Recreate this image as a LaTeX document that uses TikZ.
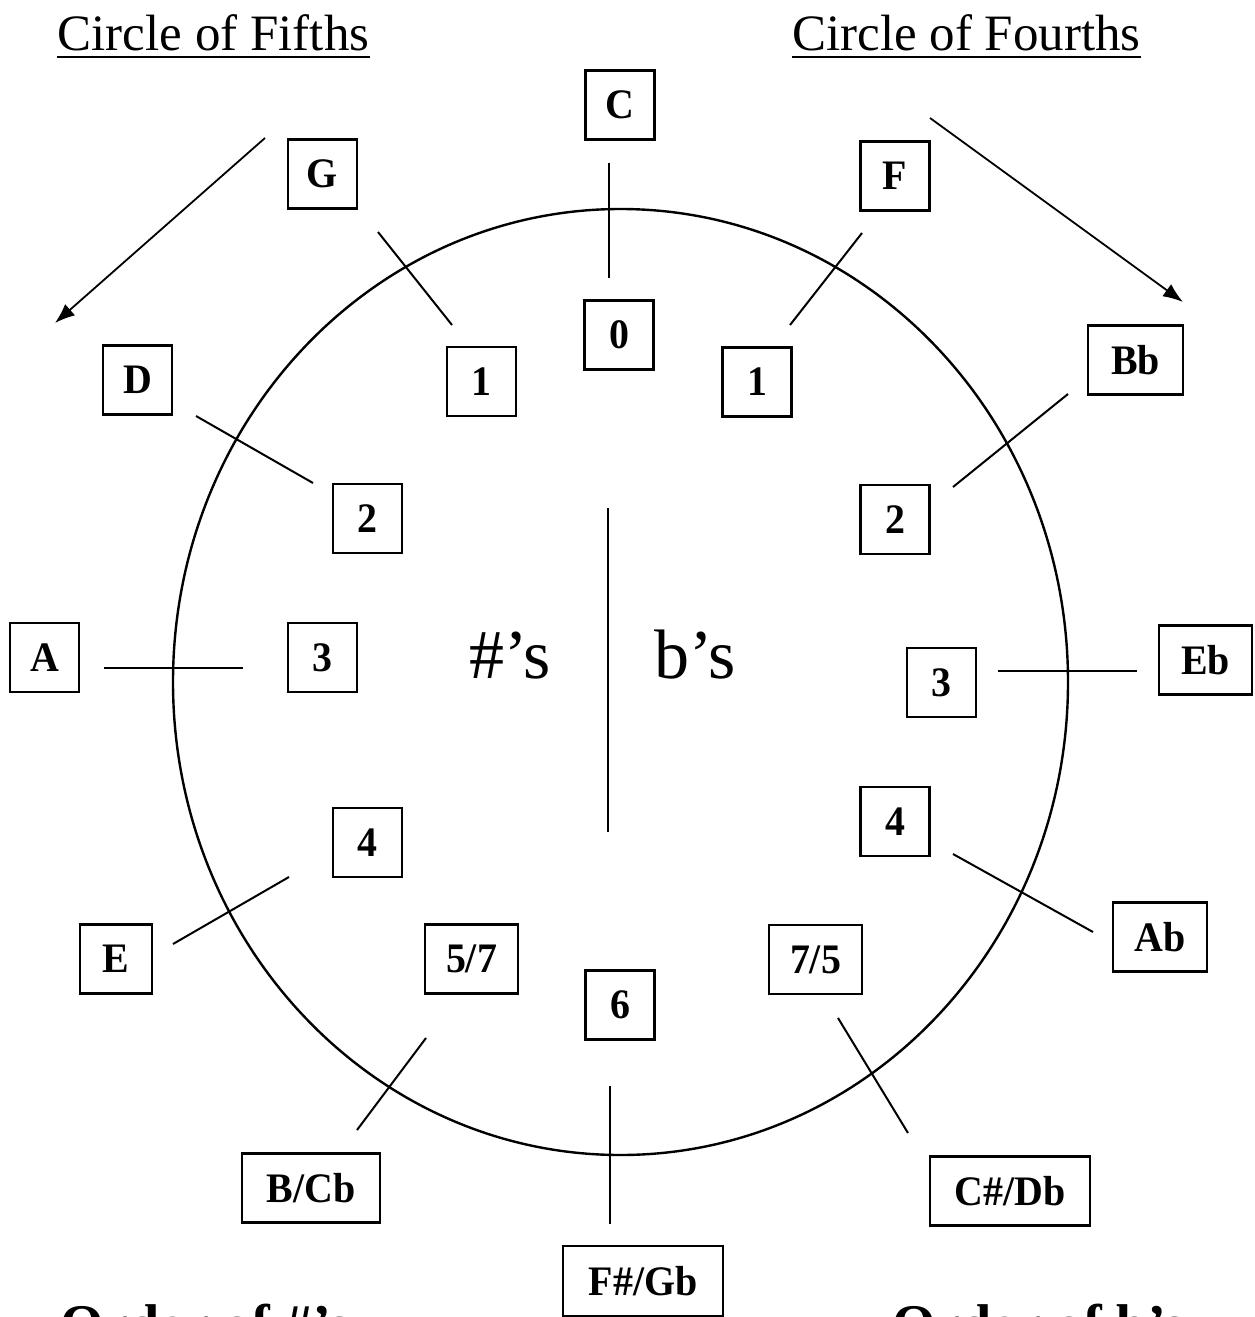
\documentclass[tikz,border=0pt]{standalone}
\usepackage{fontspec}
\setmainfont{Liberation Serif}
\newfontfamily\kbfont[FakeStretch=0.95]{Liberation Serif}
\usetikzlibrary{arrows.meta}
\begin{document}
\begin{tikzpicture}[x=1pt,y=-1pt,
  keybox/.style={draw,line width=2.2pt,inner sep=0pt,minimum height=69pt,minimum width=69pt,
    font=\kbfont\bfseries\fontsize{42}{42}\selectfont},
  tick/.style={line width=2pt},
  bigarrow/.style={line width=1.8pt,-{Latex[length=20pt,width=15pt]}},
  title/.style={inner sep=0pt,anchor=base,font=\fontsize{51}{51}\selectfont},
  bottomtitle/.style={inner sep=0pt,anchor=north west,font=\fontsize{56}{56}\selectfont\bfseries},
  sidelabel/.style={inner sep=0pt,anchor=base,font=\fontsize{70}{70}\selectfont}]
\useasboundingbox (0,0) rectangle (1254,1317);
\clip (0,0) rectangle (1254,1317);
\fill[white] (0,0) rectangle (1254,1317);

% titles
\node[title] (t5) at (213.5,50) {Circle of Fifths};
\node[title] (t4) at (966.5,50) {Circle of Fourths};
\draw[line width=2pt] ([yshift=-7pt]t5.base west) -- ([yshift=-7pt]t5.base east);
\draw[line width=2pt] ([yshift=-7pt]t4.base west) -- ([yshift=-7pt]t4.base east);

% circle
\draw[line width=2.4pt] (620.5,682) ellipse [x radius=447.5, y radius=473];

% keys on the outside
\node[keybox] (C)   at (620,105) {C};
\node[keybox] (G)   at (322.5,174) {G};
\node[keybox] (F)   at (895,176) {F};
\node[keybox] (D)   at (137.5,380) {D};
\node[keybox,minimum width=95pt] (Bb) at (1135.5,360) {Bb};
\node[keybox] (A)   at (44.5,657.5) {A};
\node[keybox,minimum width=93pt] (Eb) at (1205.5,660) {Eb};
\node[keybox,minimum width=72pt] (E) at (116,959) {E};
\node[keybox,minimum width=94pt] (Ab) at (1160,937) {Ab};
\node[keybox,minimum width=138pt] (BCb) at (311,1188) {B/Cb};
\node[keybox,minimum width=160pt] (CDb) at (1010,1191) {C\#/Db};
\node[keybox,minimum width=160pt,minimum height=70pt] (FGb) at (643,1281) {F\#/Gb};

% numbers inside
\node[keybox] (n0)  at (619,335) {0};
\node[keybox] (n1l) at (481.5,381.5) {1};
\node[keybox] (n1r) at (757,382) {1};
\node[keybox] (n2l) at (367.5,518.5) {2};
\node[keybox] (n2r) at (895,519.5) {2};
\node[keybox] (n3l) at (322.5,657.5) {3};
\node[keybox] (n3r) at (941.5,682.5) {3};
\node[keybox] (n4l) at (367.5,842.5) {4};
\node[keybox] (n4r) at (895,821.5) {4};
\node[keybox,minimum width=93pt] (n57) at (471.5,959) {5/7};
\node[keybox,minimum width=93pt] (n75) at (815.5,959.5) {7/5};
\node[keybox] (n6)  at (620,1005) {6};

% centre labels
\node[sidelabel] (sharps) at (510,678) {\#’s};
\node[sidelabel] (flats)  at (695,678) {b’s};

% connector end points
\coordinate (cC1) at (609,163);   \coordinate (cC2) at (609,278);
\coordinate (cG1) at (378,232);   \coordinate (cG2) at (452,325);
\coordinate (cF1) at (862,233);   \coordinate (cF2) at (790,325);
\coordinate (cD1) at (196,416);   \coordinate (cD2) at (313,483);
\coordinate (cB1) at (1068,394);  \coordinate (cB2) at (953,487);
\coordinate (cA1) at (104,668);   \coordinate (cA2) at (243,668);
\coordinate (cE1) at (998,671);   \coordinate (cE2) at (1137,671);
\coordinate (cX1) at (173,944);   \coordinate (cX2) at (289,877);
\coordinate (cH1) at (953,854);   \coordinate (cH2) at (1093,932);
\coordinate (cK1) at (357,1130);  \coordinate (cK2) at (426,1038);
\coordinate (cL1) at (838,1018);  \coordinate (cL2) at (908,1133);
\coordinate (cM1) at (610,1086);  \coordinate (cM2) at (610,1224);
\coordinate (cZ1) at (608,508);   \coordinate (cZ2) at (608,832);

\draw[tick] (cC1) -- (cC2);
\draw[tick] (cG1) -- (cG2);
\draw[tick] (cF1) -- (cF2);
\draw[tick] (cD1) -- (cD2);
\draw[tick] (cB1) -- (cB2);
\draw[tick] (cA1) -- (cA2);
\draw[tick] (cE1) -- (cE2);
\draw[tick] (cX1) -- (cX2);
\draw[tick] (cH1) -- (cH2);
\draw[tick] (cK1) -- (cK2);
\draw[tick] (cL1) -- (cL2);
\draw[tick] (cM1) -- (cM2);
\draw[line width=2.4pt] (cZ1) -- (cZ2);

% direction arrows
\coordinate (aL1) at (265,138); \coordinate (aL2) at (55,323);
\coordinate (aR1) at (930,118); \coordinate (aR2) at (1183,302);
\draw[bigarrow] (aL1) -- (aL2);
\draw[bigarrow] (aR1) -- (aR2);

% bottom titles (cut off by the page edge, as in the source)
\node[bottomtitle] (ordS) at (60,1304) {Order of \#’s};
\node[bottomtitle] (ordF) at (892,1304) {Order of b’s};
\end{tikzpicture}
\end{document}
